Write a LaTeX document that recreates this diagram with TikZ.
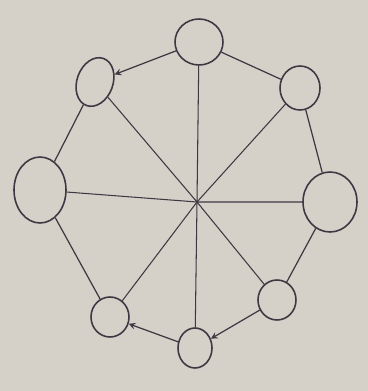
\documentclass[tikz,border=0pt]{standalone}
\usepackage{xcolor}
\usepackage{tikz}
\usetikzlibrary{shapes.geometric}
\definecolor{paper}{RGB}{213,209,201}
\definecolor{pencil}{RGB}{62,56,66}
\tikzset{vertex/.style={draw=pencil, ellipse, line width=0.9pt, inner sep=0pt}}

\begin{document}
\begin{tikzpicture}[>=stealth, line width=0.7pt]
    \fill[paper] (0,0) rectangle (7.36,7.82);
    \useasboundingbox (0,0) rectangle (7.36,7.82);
    % the eight circles round the ring
    \node[vertex, minimum width=0.96cm, minimum height=0.92cm] (n) at (3.98,6.98) {};
    \node[vertex, minimum width=0.72cm, minimum height=1.00cm, rotate=-20] (nw) at (1.90,6.18) {};
    \node[vertex, minimum width=0.80cm, minimum height=0.88cm] (ne) at (6.00,6.06) {};
    \node[vertex, minimum width=1.04cm, minimum height=1.32cm] (w) at (0.80,4.02) {};
    \node[vertex, minimum width=1.08cm, minimum height=1.20cm] (e) at (6.60,3.78) {};
    \node[vertex, minimum width=0.76cm, minimum height=0.80cm] (se) at (5.54,1.82) {};
    \node[vertex, minimum width=0.68cm, minimum height=0.80cm] (s) at (3.90,0.86) {};
    \node[vertex, minimum width=0.76cm, minimum height=0.80cm] (sw) at (2.20,1.48) {};
    \coordinate (c) at (3.94,3.78);
    % the ring
    \draw[->, pencil] (n) -- (nw);
    \draw[pencil] (n) -- (ne);
    \draw[pencil] (ne) -- (e);
    \draw[pencil] (e) -- (se);
    \draw[->, pencil] (se) -- (s);
    \draw[->, pencil] (s) -- (sw);
    \draw[pencil] (sw) -- (w);
    \draw[pencil] (w) -- (nw);
    % the four lines through the middle
    \draw[pencil, line width=0.6pt] (n) -- (c) -- (s);
    \draw[pencil, line width=0.6pt] (nw) -- (c) -- (se);
    \draw[pencil, line width=0.6pt] (ne) -- (c) -- (sw);
    \draw[pencil, line width=0.6pt] (w) -- (c) -- (e);
\end{tikzpicture}
\end{document}
